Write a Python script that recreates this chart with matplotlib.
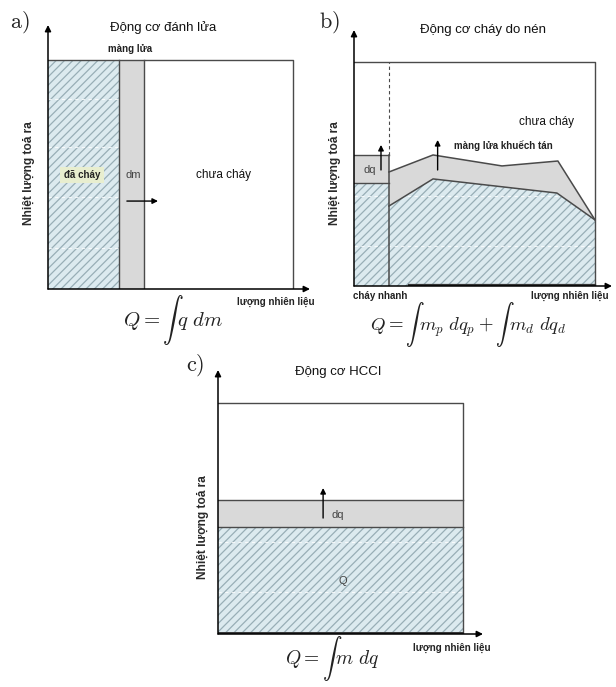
import matplotlib
matplotlib.use("Agg")
import matplotlib.pyplot as plt
import numpy as np
from matplotlib.patches import Rectangle, Polygon

plt.rcParams['font.family'] = ['Liberation Sans', 'DejaVu Sans']
plt.rcParams['mathtext.fontset'] = 'cm'
plt.rcParams['hatch.linewidth'] = 0.9

# ---------------- data ----------------
# panel a (spark ignition): fractions of fuel along x, heat along y
A_BURNED_END = 0.29
A_FLAME_END = 0.39
A_TOP = 1.0
# panel b (compression ignition)
B_PREMIX_X = 0.145
B_PREMIX_Q = 0.46
B_PREMIX_TOP = 0.585
B_UPPER_X = [0.145, 0.328, 0.614, 0.846, 1.0]
B_UPPER_Y = [0.509, 0.585, 0.536, 0.558, 0.295]
B_LOWER_X = [0.145, 0.328, 0.842, 1.0]
B_LOWER_Y = [0.357, 0.478, 0.415, 0.295]
# panel c (HCCI)
C_Q = 0.463
C_TOP = 0.58
# faint dashed lines inside hatched areas
GRID_Y = [0.18, 0.40, 0.62, 0.83]

TITLES = ["Động cơ đánh lửa", "Động cơ cháy do nén", "Động cơ HCCI"]
YLABEL = "Nhiệt lượng toả ra"
XLABEL = "lượng nhiên liệu"
FORMULAS = [r"$Q = \int\, q\ dm$",
            r"$Q = \int\, m_p\ dq_p + \int\, m_d\ dq_d$",
            r"$Q = \int\, m\ dq$"]
PANEL_TAGS = [r"$\mathrm{a)}$", r"$\mathrm{b)}$", r"$\mathrm{c)}$"]

HATCH_FACE = '#dceaef'
HATCH_LINE = '#98aeb6'
GREY_FILL = '#d9d9d9'
LINE_C = '#4a4a4a'

W, H = 616, 687
fig = plt.figure(figsize=(W / 100, H / 100), dpi=100)
fig.patch.set_facecolor('white')


def make_axes(left_px, right_px, bottom_px, top_px, box_right_px, box_top_px):
    ax = fig.add_axes([left_px / W, 1 - bottom_px / H,
                       (right_px - left_px) / W, (bottom_px - top_px) / H])
    xt = (right_px - left_px) / (box_right_px - left_px)
    yt = (bottom_px - top_px) / (bottom_px - box_top_px)
    ax.set_xlim(0, xt)
    ax.set_ylim(0, yt)
    ax.axis('off')
    # axis arrows
    ax.annotate('', xy=(xt, 0), xytext=(0, 0),
                arrowprops=dict(arrowstyle='-|>', color='black', lw=1.1,
                                mutation_scale=9, shrinkA=0, shrinkB=0),
                annotation_clip=False)
    ax.annotate('', xy=(0, yt), xytext=(0, 0),
                arrowprops=dict(arrowstyle='-|>', color='black', lw=1.1,
                                mutation_scale=9, shrinkA=0, shrinkB=0),
                annotation_clip=False)
    return ax


def hatched(ax, patch):
    patch.set_facecolor(HATCH_FACE)
    patch.set_edgecolor(HATCH_LINE)
    patch.set_hatch('////')
    patch.set_linewidth(0)
    ax.add_patch(patch)
    for gy in GRID_Y:
        ln, = ax.plot([0, 1], [gy, gy], color='white', lw=0.8, ls=(0, (3, 3)), alpha=0.8)
        ln.set_clip_path(patch)
    return patch


def ylabel(ax, x, y):
    ax.text(x, y, YLABEL, rotation=90, ha='center', va='center',
            fontsize=8.6, fontweight='bold', color='#2a2a2a')


def small(ax, x, y, s, **kw):
    ax.text(x, y, s, ha='center', va='center', fontsize=7, fontweight='bold',
            color='#222222', clip_on=False, **kw)


def title(ax, x, y, s):
    ax.text(x, y, s, ha='center', va='center', fontsize=9.5, color='#111111')


def tag(ax, x, y, s):
    ax.text(x, y, s, ha='center', va='center', fontsize=16, color='#222222')


def formula(ax, x, y, s, size=15):
    ax.text(x, y, s, ha='center', va='center', fontsize=size, color='#222222')


def arrow(ax, x0, y0, x1, y1):
    ax.annotate('', xy=(x1, y1), xytext=(x0, y0),
                arrowprops=dict(arrowstyle='-|>', color='black', lw=1.0,
                                mutation_scale=8, shrinkA=0, shrinkB=0))

# ---------------- panel a ----------------
ax = make_axes(48, 310, 289, 25, 293, 60)
hatched(ax, Rectangle((0, 0), A_BURNED_END, A_TOP))
ax.add_patch(Rectangle((A_BURNED_END, 0), A_FLAME_END - A_BURNED_END, A_TOP,
                       facecolor=GREY_FILL, edgecolor='none'))
ax.plot([0, 1, 1], [A_TOP, A_TOP, 0], color=LINE_C, lw=1.0)
ax.plot([A_BURNED_END, A_BURNED_END], [0, A_TOP], color=LINE_C, lw=1.0)
ax.plot([A_FLAME_END, A_FLAME_END], [0, A_TOP], color=LINE_C, lw=1.0)
ax.text(0.139, 0.498, "đã cháy", ha='center', va='center', fontsize=7,
        fontweight='bold', color='#222222',
        bbox=dict(boxstyle='square,pad=0.35', facecolor='#e8eecf', edgecolor='none'))
ax.text(0.347, 0.498, "dm", ha='center', va='center', fontsize=8, color='#444444')
ax.text(0.718, 0.498, "chưa cháy", ha='center', va='center', fontsize=8.5, color='#111111')
arrow(ax, 0.322, 0.384, 0.449, 0.384)
small(ax, 0.335, 1.048, "màng lửa")
title(ax, 0.47, 1.14, TITLES[0])
tag(ax, -0.114, 1.166, PANEL_TAGS[0])
ylabel(ax, -0.078, 0.507)
small(ax, 0.93, -0.057, XLABEL)
formula(ax, 0.51, -0.135, FORMULAS[0])

# ---------------- panel b ----------------
ax = make_axes(354, 612, 286, 30, 595, 62)
hatched(ax, Rectangle((0, 0), B_PREMIX_X, B_PREMIX_Q))
ax.add_patch(Rectangle((0, B_PREMIX_Q), B_PREMIX_X, B_PREMIX_TOP - B_PREMIX_Q,
                       facecolor=GREY_FILL, edgecolor='none'))
grey_poly = list(zip(B_UPPER_X, B_UPPER_Y)) + list(zip(B_LOWER_X[::-1], B_LOWER_Y[::-1]))
ax.add_patch(Polygon(grey_poly, closed=True, facecolor=GREY_FILL, edgecolor='none'))
hatch_poly = [(B_PREMIX_X, 0)] + list(zip(B_LOWER_X, B_LOWER_Y)) + [(B_LOWER_X[-1], 0)]
hatched(ax, Polygon(hatch_poly, closed=True))
ax.plot(B_UPPER_X, B_UPPER_Y, color=LINE_C, lw=1.1)
ax.plot(B_LOWER_X, B_LOWER_Y, color=LINE_C, lw=1.1)
ax.plot([0, 1, 1], [1, 1, 0], color=LINE_C, lw=1.0)
ax.plot([0, B_PREMIX_X], [B_PREMIX_TOP, B_PREMIX_TOP], color=LINE_C, lw=1.0)
ax.plot([0, B_PREMIX_X], [B_PREMIX_Q, B_PREMIX_Q], color=LINE_C, lw=1.0)
ax.plot([B_PREMIX_X, B_PREMIX_X], [0, B_PREMIX_TOP], color=LINE_C, lw=1.1)
ax.plot([B_PREMIX_X, B_PREMIX_X], [B_PREMIX_TOP, 1], color=LINE_C, lw=0.8, ls=(0, (3, 2.5)))
ax.plot([0.23, 1], [0.004, 0.004], color='#333333', lw=1.6)
arrow(ax, 0.112, 0.518, 0.112, 0.63)
ax.text(0.066, 0.518, "dq", ha='center', va='center', fontsize=8, color='#444444')
arrow(ax, 0.347, 0.518, 0.347, 0.652)
ax.text(0.618, 0.625, "màng lửa khuếch tán", ha='center', va='center', fontsize=7,
        fontweight='bold', color='#222222')
ax.text(0.80, 0.732, "chưa cháy", ha='center', va='center', fontsize=8.5, color='#111111')
title(ax, 0.535, 1.143, TITLES[1])
tag(ax, -0.1, 1.18, PANEL_TAGS[1])
ylabel(ax, -0.079, 0.504)
small(ax, 0.11, -0.044, "cháy nhanh")
small(ax, 0.896, -0.044, XLABEL)
formula(ax, 0.473, -0.172, FORMULAS[1], size=13.5)

# ---------------- panel c ----------------
ax = make_axes(218, 483, 634, 370, 463, 403)
hatched(ax, Rectangle((0, 0), 1, C_Q))
ax.add_patch(Rectangle((0, C_Q), 1, C_TOP - C_Q, facecolor=GREY_FILL, edgecolor='none'))
ax.plot([0, 1, 1], [1, 1, 0], color=LINE_C, lw=1.0)
ax.plot([0, 1], [C_Q, C_Q], color=LINE_C, lw=1.0)
ax.plot([0, 1], [C_TOP, C_TOP], color=LINE_C, lw=1.0)
ax.plot([0, 1], [0.003, 0.003], color='#333333', lw=1.4)
arrow(ax, 0.429, 0.502, 0.429, 0.632)
ax.text(0.49, 0.515, "dq", ha='center', va='center', fontsize=8, color='#444444')
ax.text(0.51, 0.23, "Q", ha='center', va='center', fontsize=8, color='#444444')
title(ax, 0.49, 1.134, TITLES[2])
tag(ax, -0.094, 1.165, PANEL_TAGS[2])
ylabel(ax, -0.061, 0.463)
small(ax, 0.955, -0.061, XLABEL)
formula(ax, 0.465, -0.108, FORMULAS[2], size=14)

fig.savefig("out.png", dpi=100, facecolor='white')
